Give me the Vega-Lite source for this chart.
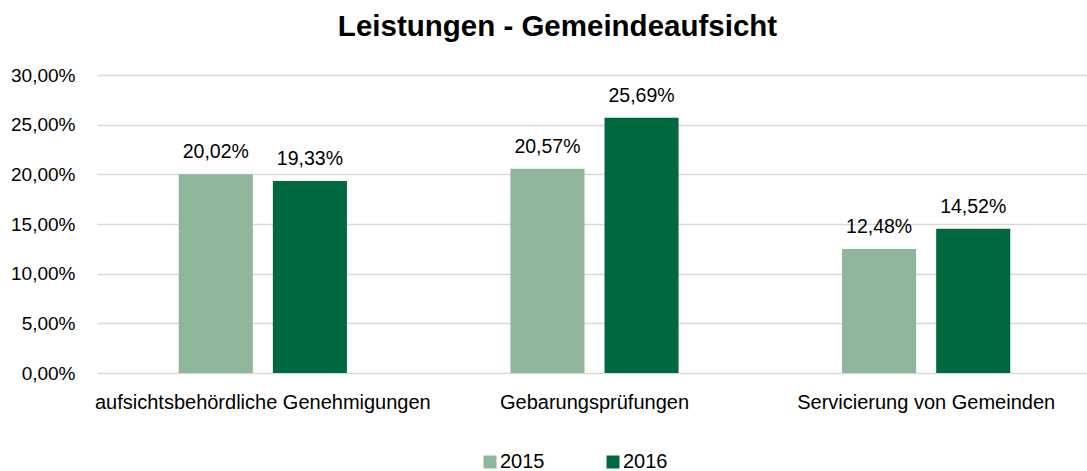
{
  "$schema": "https://vega.github.io/schema/vega-lite/v6.json",
  "autosize": {"type": "none"},
  "padding": {"left": 97, "top": 75, "right": 0, "bottom": 98},
  "width": 995,
  "height": 298,
  "background": "white",
  "config": {
    "locale": {"number": {"decimal": ",", "thousands": ".", "grouping": [3], "currency": ["", " €"]}},
    "font": "Liberation Sans",
    "view": {"stroke": null}
  },
  "title": {
    "text": "Leistungen - Gemeindeaufsicht",
    "font": "Liberation Sans",
    "fontSize": 29.5,
    "fontWeight": "bold",
    "color": "#000000",
    "anchor": "middle",
    "frame": "group",
    "dx": -37,
    "offset": 24
  },
  "data": {
    "values": [
      {"kategorie": "aufsichtsbehördliche Genehmigungen", "jahr": "2015", "wert": 0.2002},
      {"kategorie": "aufsichtsbehördliche Genehmigungen", "jahr": "2016", "wert": 0.1933},
      {"kategorie": "Gebarungsprüfungen", "jahr": "2015", "wert": 0.2057},
      {"kategorie": "Gebarungsprüfungen", "jahr": "2016", "wert": 0.2569},
      {"kategorie": "Servicierung von Gemeinden", "jahr": "2015", "wert": 0.1248},
      {"kategorie": "Servicierung von Gemeinden", "jahr": "2016", "wert": 0.1452}
    ]
  },
  "encoding": {
    "x": {
      "field": "kategorie",
      "type": "nominal",
      "sort": null,
      "scale": {"paddingInner": 0.4929, "paddingOuter": 0.2465},
      "axis": {
        "title": null,
        "labelAngle": 0,
        "labelFontSize": 20,
        "labelColor": "#000000",
        "labelPadding": 19,
        "labelLimit": 400,
        "domain": false,
        "ticks": false
      }
    },
    "xOffset": {
      "field": "jahr",
      "type": "nominal",
      "scale": {"paddingInner": 0.2128, "paddingOuter": 0}
    },
    "y": {
      "field": "wert",
      "type": "quantitative",
      "scale": {"domain": [0, 0.3]},
      "axis": {
        "title": null,
        "format": ".2%",
        "values": [0, 0.05, 0.1, 0.15, 0.2, 0.25, 0.3],
        "labelFontSize": 19,
        "labelColor": "#000000",
        "labelPadding": 22,
        "domain": false,
        "ticks": false,
        "grid": true,
        "gridColor": "#d9d9d9",
        "gridWidth": 1.5
      }
    }
  },
  "layer": [
    {
      "mark": {"type": "bar"},
      "encoding": {
        "color": {
          "field": "jahr",
          "type": "nominal",
          "scale": {"domain": ["2015", "2016"], "range": ["#8FB59A", "#00693F"]},
          "legend": {
            "title": null,
            "orient": "none",
            "legendX": 383,
            "legendY": 377,
            "direction": "horizontal",
            "symbolType": "square",
            "symbolSize": 169,
            "symbolStrokeWidth": 0,
            "labelFontSize": 20,
            "labelColor": "#000000",
            "labelOffset": 0,
            "columnPadding": 58
          }
        }
      }
    },
    {
      "mark": {"type": "text", "baseline": "alphabetic", "dy": -16, "fontSize": 19.5, "color": "#000000"},
      "encoding": {
        "text": {"field": "wert", "type": "quantitative", "format": ".2%"}
      }
    }
  ]
}
